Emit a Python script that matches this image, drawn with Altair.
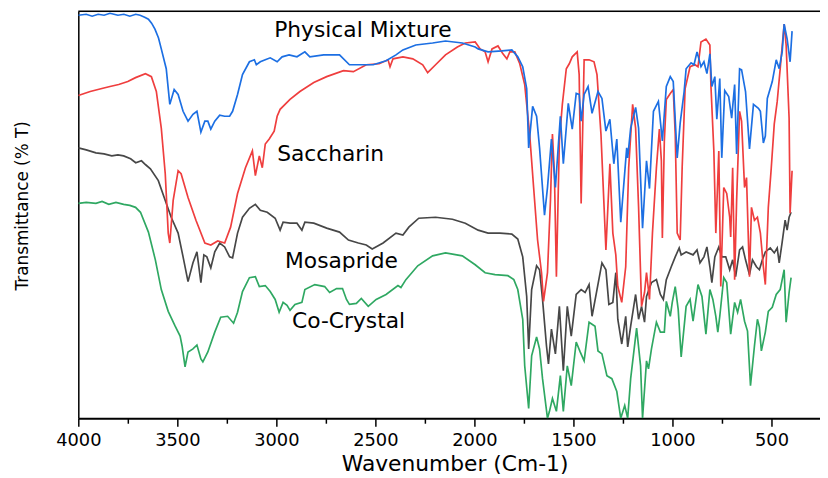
import altair as alt
import pandas as pd

# ---------------- data (wavenumber in cm-1, transmittance in arbitrary offset units) ----------------
blue_wn = [4000, 3960, 3930, 3900, 3870, 3840, 3800, 3770, 3740, 3710,
           3688, 3665, 3646, 3630, 3613, 3595, 3581, 3556, 3538, 3516,
           3496, 3471, 3446, 3421, 3401, 3381, 3361, 3346, 3331, 3311,
           3286, 3261, 3236, 3221, 3196, 3171, 3136, 3111, 3101, 3081,
           3056, 3031, 2996, 2971, 2936, 2896, 2856, 2831, 2761, 2681,
           2631, 2581, 2511, 2446, 2396, 2361, 2296, 2211, 2146, 2061,
           1996, 1981, 1931, 1861, 1811, 1781, 1756, 1736, 1726, 1706,
           1686, 1671, 1646, 1631, 1611, 1591, 1566, 1551, 1526, 1506,
           1486, 1471, 1461, 1446, 1426, 1406, 1376, 1356, 1336, 1316,
           1296, 1281, 1261, 1231, 1226, 1211, 1186, 1171, 1151, 1131,
           1116, 1096, 1071, 1051, 1031, 1011, 996, 976, 961, 941,
           931, 906, 891, 876, 856, 841, 826, 811, 801, 786,
           776, 761, 751, 736, 716, 701, 686, 676, 661, 651,
           631, 611, 591, 566, 556, 541, 531, 521, 496, 476,
           461, 446, 436, 421, 406, 396]
blue_t = [407, 408, 406, 408, 407, 409, 407, 408, 406, 408,
          407, 405, 403, 399, 393, 384, 373, 353, 317, 332,
          327, 310, 300, 307, 310, 289, 300, 300, 292, 300,
          306, 305, 305, 310, 327, 347, 360, 362, 357, 360,
          362, 364, 360, 365, 367, 365, 370, 365, 367, 367,
          357, 357, 357, 361, 367, 372, 377, 379, 381, 379,
          375, 373, 370, 371, 372, 365, 355, 333, 273, 315,
          305, 273, 205, 233, 282, 233, 305, 257, 318, 292,
          328, 327, 300, 327, 335, 308, 330, 323, 290, 302,
          257, 282, 198, 273, 263, 293, 314, 293, 192, 260,
          232, 310, 320, 280, 335, 345, 340, 263, 298, 330,
          353, 359, 357, 370, 355, 360, 348, 368, 335, 345,
          302, 343, 263, 331, 325, 303, 337, 267, 353, 352,
          330, 272, 317, 313, 310, 278, 285, 323, 340, 362,
          353, 370, 398, 383, 360, 391]

red_wn = [4000, 3940, 3881, 3840, 3796, 3750, 3711, 3661, 3631, 3606,
          3581, 3561, 3546, 3538, 3521, 3496, 3481, 3446, 3406, 3361,
          3331, 3296, 3261, 3231, 3196, 3156, 3121, 3106, 3086, 3071,
          3056, 3036, 3011, 2996, 2981, 2931, 2881, 2811, 2746, 2661,
          2611, 2546, 2481, 2436, 2426, 2411, 2361, 2311, 2261, 2236,
          2196, 2146, 2086, 2046, 1996, 1971, 1946, 1931, 1911, 1881,
          1856, 1836, 1821, 1796, 1771, 1746, 1721, 1701, 1681, 1661,
          1651, 1631, 1616, 1606, 1596, 1586, 1571, 1556, 1536, 1521,
          1506, 1481, 1471, 1461, 1446, 1421, 1396, 1381, 1361, 1336,
          1316, 1301, 1286, 1276, 1256, 1236, 1221, 1201, 1186, 1171,
          1156, 1141, 1131, 1116, 1101, 1081, 1066, 1056, 1051, 1041,
          1031, 1011, 996, 986, 976, 961, 951, 936, 911, 886,
          871, 856, 831, 811, 806, 791, 781, 766, 756, 741,
          726, 711, 706, 696, 686, 676, 661, 651, 636, 626,
          611, 601, 586, 571, 556, 541, 531, 516, 501, 486,
          471, 456, 436, 426, 411, 406, 396]
red_t = [326, 330, 333, 335, 337, 340, 344, 348, 345, 330,
         293, 247, 187, 177, 220, 250, 247, 223, 200, 177,
         175, 179, 177, 193, 227, 253, 270, 245, 265, 253,
         277, 282, 290, 305, 312, 322, 330, 339, 345, 351,
         350, 357, 358, 362, 355, 363, 365, 363, 357, 349,
         357, 367, 375, 379, 380, 373, 370, 360, 373, 376,
         368, 363, 370, 370, 358, 337, 287, 233, 180, 147,
         118, 147, 220, 287, 247, 143, 280, 317, 353, 358,
         365, 370, 347, 217, 362, 362, 360, 347, 287, 170,
         257, 187, 165, 133, 117, 153, 253, 317, 293, 213,
         113, 127, 147, 120, 187, 253, 292, 260, 182, 280,
         322, 328, 332, 287, 187, 180, 253, 333, 355, 357,
         355, 380, 383, 377, 337, 270, 187, 270, 133, 233,
         227, 203, 183, 253, 140, 220, 310, 300, 233, 243,
         143, 213, 200, 203, 187, 153, 135, 213, 253, 297,
         320, 353, 398, 377, 303, 207, 250]

gray_wn = [4000, 3960, 3911, 3870, 3831, 3800, 3771, 3736, 3710, 3681,
           3660, 3636, 3596, 3561, 3531, 3496, 3471, 3446, 3421, 3401,
           3381, 3366, 3351, 3331, 3311, 3286, 3261, 3236, 3221, 3196,
           3171, 3136, 3106, 3081, 3046, 3006, 2981, 2966, 2931, 2896,
           2871, 2856, 2811, 2746, 2681, 2636, 2586, 2546, 2516, 2461,
           2396, 2361, 2331, 2281, 2196, 2111, 2046, 1981, 1931, 1871,
           1811, 1781, 1756, 1736, 1726, 1711, 1686, 1671, 1656, 1636,
           1626, 1611, 1591, 1571, 1551, 1531, 1511, 1486, 1461, 1441,
           1421, 1406, 1381, 1356, 1336, 1321, 1301, 1286, 1276, 1256,
           1236, 1226, 1211, 1186, 1171, 1156, 1141, 1131, 1106, 1081,
           1061, 1046, 1031, 1006, 986, 966, 956, 931, 896, 876,
           861, 841, 826, 811, 801, 786, 766, 751, 731, 711,
           696, 681, 661, 646, 631, 611, 596, 576, 561, 546,
           531, 506, 486, 471, 461, 446, 431, 421, 411, 401]
gray_t = [273, 271, 268, 267, 265, 266, 265, 262, 258, 260,
          256, 252, 240, 220, 203, 187, 163, 138, 157, 168,
          137, 165, 163, 152, 168, 177, 173, 163, 162, 187,
          203, 212, 216, 210, 208, 202, 190, 198, 197, 197,
          190, 198, 197, 192, 188, 180, 177, 175, 171, 177,
          187, 185, 193, 202, 203, 201, 197, 190, 187, 187,
          186, 181, 163, 123, 70, 130, 154, 150, 120, 73,
          55, 90, 65, 113, 48, 113, 83, 125, 130, 127,
          135, 103, 130, 157, 150, 115, 117, 147, 100, 75,
          103, 72, 93, 125, 100, 113, 97, 123, 137, 140,
          125, 120, 140, 153, 163, 172, 165, 168, 165, 170,
          157, 163, 173, 153, 137, 163, 173, 163, 163, 150,
          160, 143, 170, 173, 160, 145, 160, 153, 150, 160,
          168, 172, 167, 172, 157, 178, 200, 190, 203, 208]

green_wn = [4000, 3960, 3911, 3880, 3846, 3810, 3771, 3740, 3711, 3686,
            3646, 3611, 3581, 3546, 3511, 3486, 3476, 3461, 3446, 3421,
            3401, 3381, 3371, 3346, 3311, 3281, 3246, 3216, 3196, 3171,
            3136, 3106, 3086, 3056, 3031, 3006, 2986, 2966, 2946, 2931,
            2906, 2871, 2856, 2806, 2756, 2731, 2696, 2666, 2646, 2631,
            2596, 2571, 2536, 2496, 2446, 2386, 2371, 2346, 2286, 2211,
            2146, 2061, 1996, 1946, 1896, 1831, 1801, 1781, 1756, 1746,
            1726, 1711, 1686, 1671, 1656, 1631, 1621, 1606, 1586, 1566,
            1551, 1531, 1511, 1486, 1466, 1446, 1421, 1391, 1376, 1356,
            1331, 1306, 1281, 1261, 1241, 1226, 1211, 1181, 1161, 1151,
            1131, 1121, 1106, 1081, 1061, 1041, 1031, 1011, 1001, 986,
            971, 956, 931, 911, 896, 871, 851, 831, 811, 796,
            781, 771, 761, 741, 726, 706, 686, 671, 656, 636,
            621, 606, 586, 571, 561, 551, 531, 516, 496, 476,
            456, 436, 426, 411, 401]
green_t = [217, 218, 217, 219, 216, 218, 216, 215, 213, 208,
           188, 160, 130, 108, 93, 83, 73, 52, 67, 70,
           74, 60, 57, 67, 87, 102, 103, 96, 107, 128,
           142, 143, 133, 134, 128, 120, 107, 117, 114, 109,
           115, 117, 130, 135, 133, 127, 131, 131, 120, 115,
           116, 121, 113, 120, 125, 134, 132, 140, 154, 164,
           167, 164, 155, 147, 145, 144, 140, 130, 100, 53,
           10, 63, 82, 70, 40, 0, 7, 20, 7, 43,
           7, 53, 33, 77, 67, 58, 97, 93, 68, 65,
           43, 40, 27, 0, 13, 0, 40, 91, 53, 0,
           58, 50, 70, 97, 87, 87, 118, 103, 117, 133,
           110, 62, 113, 120, 98, 135, 123, 85, 130, 120,
           103, 87, 103, 142, 137, 85, 117, 107, 120, 98,
           88, 33, 73, 100, 92, 68, 87, 108, 112, 125,
           130, 150, 97, 127, 142]

label_text = ["Physical Mixture", "Saccharin", "Mosapride", "Co-Crystal"]
label_wn = [3011, 2996, 2956, 2921]
label_t = [392, 267, 159, 98]

tick_values = [4000, 3750, 3500, 3250, 3000, 2750, 2500, 2250, 2000,
               1750, 1500, 1250, 1000, 750, 500]

# ---------------- chart ----------------
W, H = 749, 411
FONT = "DejaVu Sans"

x_scale = alt.Scale(domain=[4000, 255], nice=False, zero=False)
y_scale = alt.Scale(domain=[0, 411], nice=False, zero=False)

x_axis = alt.Axis(
    values=tick_values, format="d",
    labelExpr="datum.value % 500 === 0 ? datum.label : ''",
    tickSize={"condition": {"test": "datum.value % 500 === 0", "value": 8}, "value": 5},
    tickWidth=1.5, tickColor="black",
    domainWidth=2, domainColor="black",
    labelFont=FONT, labelFontSize=18, labelColor="black", labelPadding=6,
    labelFlush=False, labelOverlap=False,
    grid=False,
    title="Wavenumber (Cm-1)", titleFont=FONT, titleFontSize=22,
    titleFontWeight="normal", titleColor="black",
    titleX=380, titleY=46, titleAlign="center", titleBaseline="middle",
)
y_axis = alt.Axis(
    labels=False, ticks=False, grid=False,
    domainWidth=1.5, domainColor="black",
    title="Transmittance (% T)", titleFont=FONT, titleFontSize=17,
    titleFontWeight="normal", titleColor="black",
    titleX=-56, titleY=196, titleAngle=-90,
    titleAlign="center", titleBaseline="middle",
)


def series(wn, t, color):
    df = pd.DataFrame({"wn": wn, "t": t})
    return alt.Chart(df).mark_line(color=color, strokeWidth=1.7, clip=True).encode(
        x=alt.X("wn:Q", scale=x_scale, axis=x_axis),
        y=alt.Y("t:Q", scale=y_scale, axis=y_axis),
    )


green = series(green_wn, green_t, "#2fa862")
gray = series(gray_wn, gray_t, "#474747")
red = series(red_wn, red_t, "#ef3e3e")
blue = series(blue_wn, blue_t, "#1c6fe3")

labels_df = pd.DataFrame({"text": label_text, "wn": label_wn, "t": label_t})
labels = alt.Chart(labels_df).mark_text(
    align="left", baseline="middle", font=FONT, fontSize=22, color="black"
).encode(
    x=alt.X("wn:Q", scale=x_scale, axis=x_axis),
    y=alt.Y("t:Q", scale=y_scale, axis=y_axis),
    text="text:N",
)

top_border = alt.Chart(pd.DataFrame({"k": [0]})).mark_rule(
    color="black", strokeWidth=1.5
).encode(x=alt.value(0), x2=alt.value(W), y=alt.value(0))

chart = alt.layer(green, gray, red, blue, labels, top_border).properties(
    width=W, height=H,
    padding={"left": 71, "top": 1, "right": 0, "bottom": 58},
    autosize=alt.AutoSizeParams(type="none"),
).configure_view(strokeWidth=0).configure(background="white")

chart.save("out.html", embed_options={"renderer": "svg", "actions": False})
